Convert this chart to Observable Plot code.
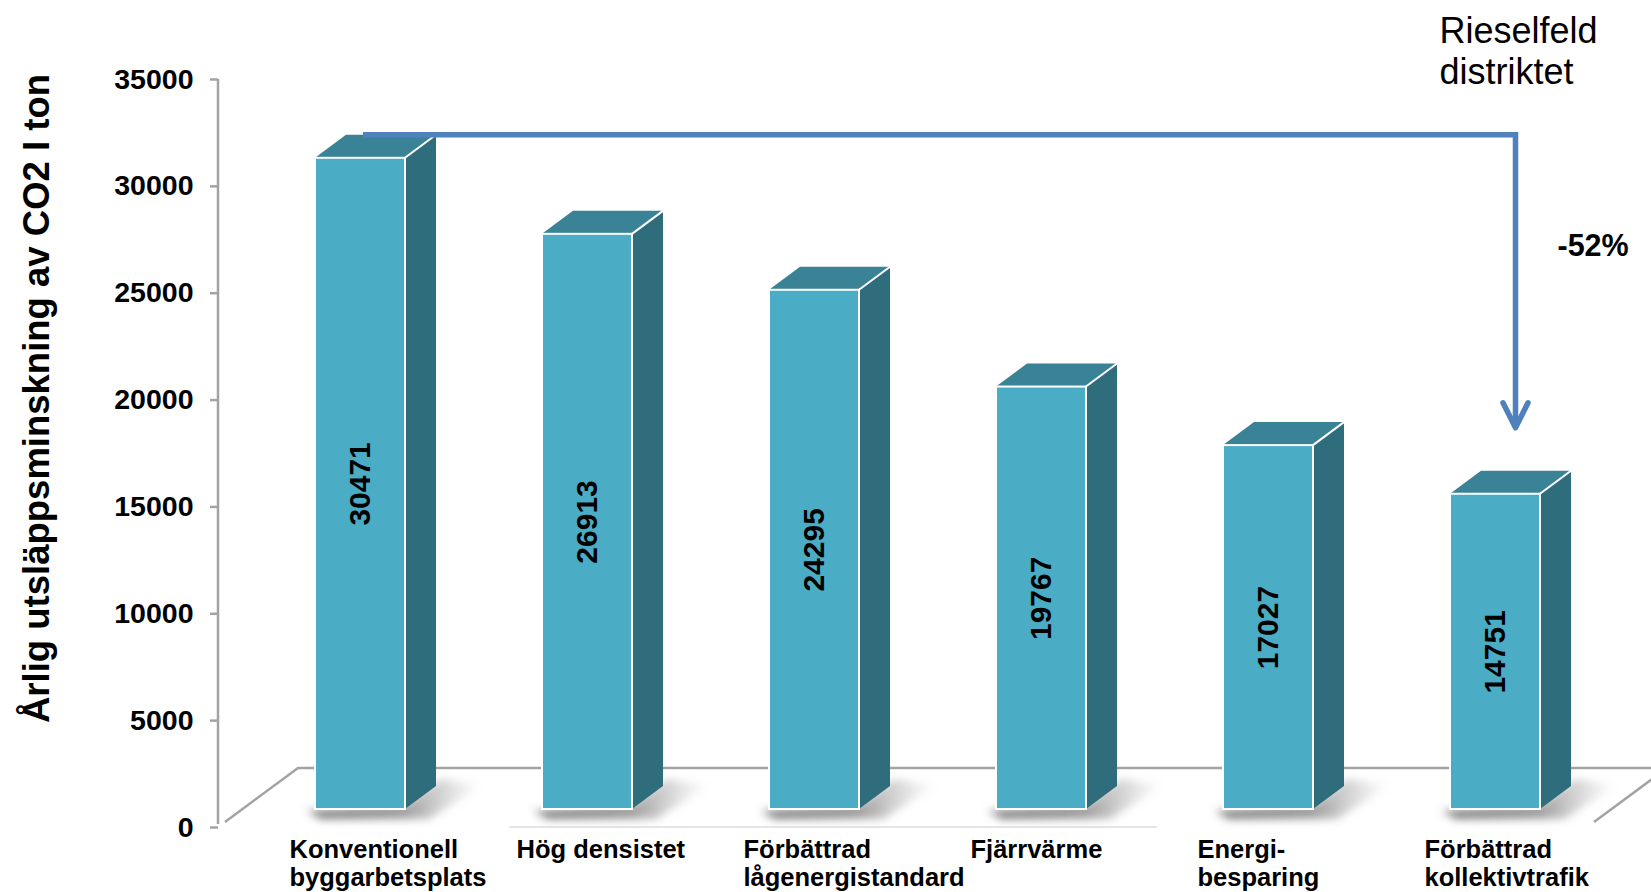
<!DOCTYPE html>
<html><head><meta charset="utf-8">
<script src="https://cdn.jsdelivr.net/npm/d3@7"></script>
<script src="https://cdn.jsdelivr.net/npm/@observablehq/plot@0.6"></script>
<style>
html,body{margin:0;padding:0;background:#fff;}
#chart svg{display:block;}
[aria-label="y-axis tick label"] text{font-size:28.5px;font-weight:bold;fill:#000;}
</style></head><body><div id="chart"></div>
<script>
const categories = ["Konventionell\nbyggarbetsplats","Hög densistet","Förbättrad\nlågenergistandard","Fjärrvärme","Energi-\nbesparing","Förbättrad\nkollektivtrafik"];
const values = [30471, 26913, 24295, 19767, 17027, 14751];
const yTicks = [0,5000,10000,15000,20000,25000,30000,35000];
const yTitle = "Årlig utsläppsminskning av CO2 I ton";
const annotation = "Rieselfeld\ndistriktet";
const reduction = "-52%";

const data = categories.map((c,i)=>({category:c, value:values[i]}));

const FRONT = "#4BACC6", TOP = "#3A8397", SIDE = "#306D7C", ARROW = "#4F81BD", GRID = "#a3a3a3";
const LIFT = 18;            // front faces sit above the floor front edge
const DX = 31, DY = -23;    // bar depth
const FDX = 73, FDY = -54;  // floor depth
const PAD = 0.605;

function scene(index, scales, vals, dims, context) {
  const x = scales.x, y = scales.y;
  const step = x(categories[1]) - x(categories[0]);
  const bw = typeof x.bandwidth === "function" ? x.bandwidth() : step * (1 - PAD);
  const ns = "http://www.w3.org/2000/svg";
  const g = d3.select(context.document.createElementNS(ns, "g"));
  const defs = g.append("defs");
  defs.append("filter").attr("id","shadowBlur").attr("x","-50%").attr("y","-50%").attr("width","200%").attr("height","200%")
    .append("feGaussianBlur").attr("stdDeviation", 4);
  const grad = defs.append("linearGradient").attr("id","shadowGrad").attr("x1",0).attr("x2",1).attr("y1",0).attr("y2",0);
  grad.append("stop").attr("offset",0).attr("stop-color","#555").attr("stop-opacity",0.8);
  grad.append("stop").attr("offset",0.55).attr("stop-color","#666").attr("stop-opacity",0.65);
  grad.append("stop").attr("offset",1).attr("stop-color","#999").attr("stop-opacity",0);

  const x0 = dims.marginLeft, y0 = y(0);
  const lastRight = x(categories[categories.length-1]) + bw;
  // floor
  const floor = g.append("g").attr("stroke", GRID).attr("stroke-width", 2.5).attr("fill","none");
  floor.append("path").attr("d", `M${x0+7},${y0-5}L${x0+7+FDX},${y0-5+FDY}L${dims.width+40},${y0-5+FDY}`);
  floor.append("path").attr("d", `M${lastRight+54},${y0-5}L${lastRight+54+FDX},${y0-5+FDY}`);
  g.append("path").attr("d", `M${x(categories[1])-33},${y0}L${x(categories[3])+bw+71},${y0}`)
    .attr("stroke","#e6e6e6").attr("stroke-width",2);
  // y axis line
  g.append("path").attr("d", `M${x0},${y(yTicks[yTicks.length-1])}L${x0},${y0-3}`)
    .attr("stroke", GRID).attr("stroke-width", 2.5);

  // shadows
  for (const d of data) {
    const xL = x(d.category), xR = xL + bw, yB = y0 - LIFT;
    g.append("polygon")
      .attr("points", [[xL-8,yB+2],[xL+6,yB+10],[xR+24,yB+10],[xR+DX+46,yB+DY-1],[xR+DX+4,yB+DY-7],[xR,yB-4]].map(p=>p.join(",")).join(" "))
      .attr("fill","url(#shadowGrad)").attr("filter","url(#shadowBlur)");
  }
  // top and side faces
  for (const d of data) {
    const xL = x(d.category), xR = xL + bw, yB = y0 - LIFT, yT = y(d.value) - LIFT;
    g.append("polygon").attr("points", [[xL,yT],[xR,yT],[xR+DX,yT+DY],[xL+DX,yT+DY]].map(p=>p.join(",")).join(" "))
      .attr("fill", TOP);
    g.append("polygon").attr("points", [[xR,yT],[xR,yB],[xR+DX,yB+DY],[xR+DX,yT+DY]].map(p=>p.join(",")).join(" "))
      .attr("fill", SIDE);
    g.append("path").attr("d", `M${xR},${yT}L${xR+DX},${yT+DY}`).attr("stroke","#fff").attr("stroke-width",2);
  }
  // arrow
  const first = data[0], last = data[data.length-1];
  const ax1 = x(first.category) + bw/2 + 3;
  const ax2 = x(last.category) + bw/2 + DX/2 + 5;
  const ay = y(first.value) - LIFT + DY;
  const tip = y(last.value) - LIFT + DY - 43;
  g.append("path").attr("d", `M${ax1},${ay}H${ax2}V${tip-2}`)
    .attr("fill","none").attr("stroke",ARROW).attr("stroke-width",5.5).attr("stroke-linejoin","miter");
  g.append("path").attr("d", `M${ax2-12.5},${tip-25}L${ax2},${tip}L${ax2+12.5},${tip-25}`)
    .attr("fill","none").attr("stroke",ARROW).attr("stroke-width",5.5).attr("stroke-linecap","round").attr("stroke-linejoin","round");
  return g.node();
}

const chart = Plot.plot({
  width: 1651,
  height: 892,
  marginLeft: 218,
  marginRight: 0,
  marginTop: 79,
  marginBottom: 65,
  style: {fontFamily: "'Liberation Sans', Arial, sans-serif", background: "#fff", color: "#000", overflow: "visible"},
  x: {type: "band", domain: categories, range: [312, 1542], paddingInner: PAD, paddingOuter: 0, axis: null},
  y: {domain: [0, 35000], axis: null},
  marks: [
    scene,
    Plot.barY(data, {x: "category", y: "value", fill: FRONT, stroke: "#fff", strokeWidth: 2, dy: -LIFT}),
    Plot.axisY({ticks: yTicks, tickSize: 8, tickPadding: 17, tickFormat: d => String(d), stroke: GRID, strokeWidth: 2.5, fontSize: 28.5, fontWeight: "bold", label: null}),
    Plot.text(data, {x: "category", y: d => d.value / 2, text: d => String(d.value), rotate: -90, fontSize: 30, fontWeight: "bold", fill: "#000", dy: -LIFT}),
    Plot.text(data, {x: "category", text: "category", frameAnchor: "bottom", textAnchor: "start", lineAnchor: "top", dx: -71, dy: 11, fontSize: 25.5, fontWeight: "bold", lineHeight: 1.1, fill: "#000"}),
    Plot.text([yTitle], {text: d => d, frameAnchor: "left", textAnchor: "middle", lineAnchor: "middle", rotate: -90, dx: -181, dy: -55, fontSize: 36.5, fontWeight: "bold", fill: "#000"}),
    Plot.text([annotation], {text: d => d, frameAnchor: "top-right", textAnchor: "start", lineAnchor: "top", dx: -212, dy: -66, fontSize: 36, lineHeight: 1.15, fill: "#000"}),
    Plot.text([reduction], {text: d => d, frameAnchor: "top-right", textAnchor: "start", lineAnchor: "bottom", dx: -94, dy: 176, fontSize: 30.5, fontWeight: "bold", fill: "#000"})
  ]
});
document.getElementById("chart").appendChild(chart);
</script>
</body></html>
